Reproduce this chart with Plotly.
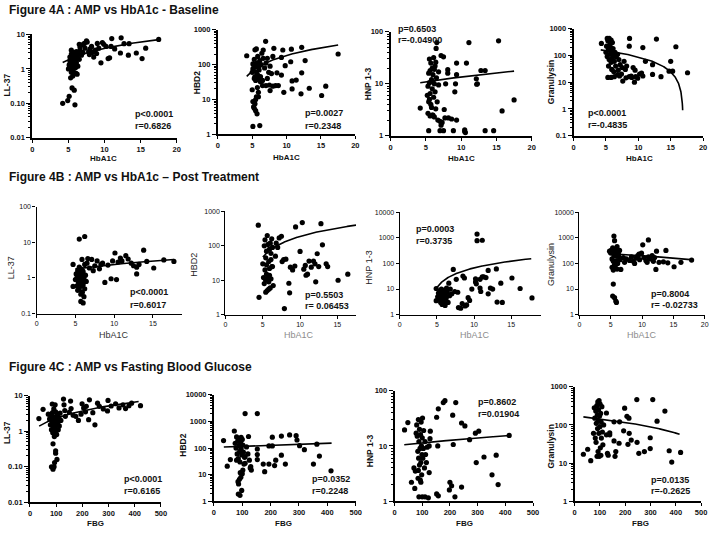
import numpy as np
import plotly.graph_objects as go

W, H = 716, 534

# ---------------- DATA ----------------
# Figure 4A : HbA1c (x) vs AMP (y) - Baseline
a_ll37_x = [4.2, 4.9, 5.1, 5.5, 5.8, 5.9, 5.3, 5.6, 6.2, 5.4, 6.0,
            5.0, 5.1, 5.2, 5.2, 5.3, 5.3, 5.4, 5.4, 5.5, 5.5, 5.5, 5.6, 5.6, 5.7, 5.7, 5.8, 5.8, 5.9, 5.9, 6.0, 6.0,
            6.1, 6.1, 6.2, 6.3, 6.4, 6.5, 6.6, 6.8, 6.9, 7.0, 6.5, 6.6,
            7.2, 7.3, 7.5, 7.6, 7.8, 7.9, 8.0, 8.2, 8.3, 8.5, 8.7, 8.9, 9.0, 9.2, 9.5, 9.7, 9.9, 10.2, 10.5, 10.7,
            11.0, 10.9, 11.4,
            12.2, 12.3, 12.7, 13.4, 13.3, 14.4, 15.2, 15.7, 17.5]
a_ll37_y = [0.10, 0.12, 0.16, 0.28, 0.24, 0.09, 0.55, 0.62, 0.7, 0.8, 0.75,
            1.0, 1.3, 1.7, 2.2, 1.1, 1.5, 2.7, 3.5, 0.9, 1.2, 1.9, 1.4, 2.4, 1.0, 1.7, 2.0, 3.0, 1.3, 2.5, 1.1, 1.8,
            1.5, 3.2, 2.2, 1.2, 2.7, 1.9, 3.5, 2.5, 5.0, 3.0, 5.2, 4.3,
            5.5, 4.0, 6.5, 6.0, 3.2, 2.6, 3.8, 4.5, 3.0, 2.2, 3.5, 2.8, 5.5, 4.0, 1.5, 5.8, 5.2, 4.5, 2.0, 2.1,
            7.6, 4.5, 3.8,
            2.9, 8.0, 5.4, 5.4, 2.5, 2.9, 2.0, 4.0, 7.2]

a_hbd2_x = [4.2, 5.1, 5.4, 5.6, 6.95, 6.6, 8.15, 9.45, 10.7, 12.2, 17.5,
            8.0, 9.25, 9.8, 8.6, 9.25, 10.8, 11.4, 12.2, 12.7, 10.6,
            9.6, 10.8, 12.1, 13.3, 15.1, 15.7,
            6.5, 7.0, 7.5, 8.0, 8.4, 8.8, 7.6, 7.2, 7.8,
            5.1, 5.4, 5.5, 5.7, 5.3, 5.5, 5.6, 5.1, 6.1, 5.0, 5.9, 5.75, 5.2, 5.9,
            5.0, 5.1, 5.2, 5.3, 5.4, 5.5, 5.5, 5.6, 5.7, 5.7, 5.8, 5.9, 6.0, 6.0, 6.1, 6.2, 6.3, 6.4, 6.5, 6.6,
            6.8, 7.0, 7.2, 7.4, 7.6, 5.8, 5.3, 6.2]
a_hbd2_y = [178, 104, 263, 280, 460, 260, 290, 260, 275, 310, 200,
            170, 160, 93, 58, 50, 34, 36, 58, 130, 120,
            16, 20, 14.5, 21, 13, 24,
            25, 25, 26, 24, 25, 25, 18, 40, 55,
            8.7, 7.5, 4.8, 3.9, 5.6, 10, 12, 1.7, 1.8, 19, 16, 22, 6.2, 12,
            60, 75, 100, 140, 45, 35, 85, 60, 40, 110, 50, 38, 70, 90, 130, 45, 100, 210, 35, 150,
            80, 110, 150, 60, 90, 170, 40, 32]

a_hnp_x = [4.2, 6.45, 6.55, 11.1, 15.3, 17.5, 15.8, 14.6, 13.4, 10.5, 10.5, 10.6, 8.9, 7.5, 7.0, 5.4,
           9.35, 8.65, 8.2, 7.7, 7.6, 7.15, 7.3,
           9.35, 10.75, 9.35, 8.1, 8.1, 7.8, 9.1, 9.2, 7.15, 7.5, 12.15, 12.2, 12.3, 12.8, 13.4,
           5.3, 5.4, 5.5, 5.5, 5.6, 5.6, 5.7, 5.7, 5.8, 5.8, 5.9, 5.9, 6.0, 6.0, 6.1, 6.1, 6.2, 6.2, 6.3, 6.3,
           6.4, 6.5, 6.6, 6.7, 6.8, 5.2, 5.3, 5.6, 5.9, 6.0, 5.4, 6.4, 6.8, 5.5, 6.2, 7.0]
a_hnp_y = [3.4, 48, 62, 62, 67, 4.9, 3.0, 1.25, 1.25, 1.3, 1.2, 1.15, 1.25, 1.25, 1.25, 1.25,
           2.0, 2.1, 2.2, 2.2, 3.2, 1.6, 1.8,
           15, 25, 25, 18.7, 16, 10, 7, 10, 35, 33, 12.5, 9.8, 10, 18, 18,
           9, 16, 5, 30, 18, 6.5, 4, 25, 12, 3.5, 8, 20, 2.5, 15, 5.5, 32, 2.3, 10, 7, 22,
           3.3, 13, 4.5, 2, 17, 6, 2.7, 2.4, 2.5, 11, 4.5, 26, 9.5, 10.5, 19, 1.9]

a_gran_x = [4.3, 5.2, 5.5, 5.3, 5.8, 5.6, 6.0, 8.65, 12.8, 15.8, 17.6, 14.75, 15.3, 15.0, 10.7, 11.1, 12.2,
            12.2, 13.5, 9.4, 9.9, 10.7, 7.6, 8.1, 8.6, 8.9,
            5.3, 5.8, 6.3, 6.8, 7.1, 7.4, 9.0, 9.6, 10.2, 10.5,
            5.0, 5.2, 5.4, 5.5, 5.6, 5.7, 5.8, 5.9, 6.0, 6.1, 6.2, 6.3, 6.4, 6.5, 6.6, 6.8, 7.0, 7.2, 7.5, 7.8,
            8.2, 8.6, 9.2, 9.5, 5.4, 5.9, 6.2, 6.9, 8.0, 5.1, 5.6]
a_gran_y = [280, 430, 430, 350, 370, 250, 300, 430, 405, 210, 22.5, 25.8, 25.8, 60, 195, 60, 45,
            19.5, 16, 10, 14, 17, 11, 14.5, 16, 17,
            15, 15, 16, 19, 17, 20, 15, 16, 20, 22,
            130, 90, 170, 70, 110, 200, 55, 140, 80, 180, 100, 60, 130, 40, 90, 110, 70, 45, 35, 60,
            40, 220, 35, 28, 40, 30, 25, 28, 30, 220, 160]

# Figure 4B : HbA1c (x) vs AMP (y) - Post Treatment
b_ll37_x = [5.5, 6.2, 4.7, 5.85, 4.7, 5.7, 6.0, 7.1, 6.6, 8.5, 8.1, 8.8, 9.6, 10.3, 10.1, 10.8, 11.5, 11.8,
            12.5, 12.9, 12.9, 13.8, 15.1, 16.4, 17.7, 14.2, 11.0, 10.5, 9.8, 9.2, 7.5, 7.8, 8.3, 7.3, 6.8, 6.5,
            12.2, 13.2,
            5.0, 5.1, 5.2, 5.3, 5.3, 5.4, 5.4, 5.5, 5.5, 5.6, 5.6, 5.7, 5.7, 5.8, 5.8, 5.9, 5.9, 6.0, 6.0, 6.1,
            6.1, 6.2, 6.2, 6.3, 6.4, 5.2, 5.5, 5.9, 5.6, 6.0]
b_ll37_y = [12.3, 14.5, 2.4, 3.3, 0.58, 0.22, 0.2, 3.3, 3.5, 2.6, 1.8, 0.75, 0.95, 0.9, 5.0, 3.6, 4.2, 3.4,
            2.2, 1.3, 2.0, 6.0, 1.9, 3.2, 2.9, 2.9, 3.0, 2.8, 3.0, 2.3, 2.2, 3.0, 2.4, 1.6, 1.9, 2.6,
            2.6, 2.4,
            0.9, 1.3, 0.6, 1.6, 0.45, 1.1, 0.75, 2.0, 0.5, 1.4, 0.9, 0.35, 1.8, 0.6, 1.2, 0.8, 0.4, 1.5, 0.65, 1.0,
            0.3, 2.4, 0.5, 1.2, 0.8, 1.0, 1.25, 1.6, 0.7, 1.1]

b_hbd2_x = [4.4, 4.5, 7.9, 8.6, 8.5, 8.1, 7.6, 9.4, 10.3, 12.8, 10.0, 10.5, 10.7, 11.2, 11.8, 12.3, 12.5,
            13.0, 13.7, 15.1, 16.4, 12.1, 10.8, 8.7, 6.4, 6.3, 6.7, 7.8, 9.0, 9.3, 11.0, 11.5, 12.0, 13.5,
            7.2, 7.5, 6.8, 7.0,
            5.0, 5.1, 5.2, 5.2, 5.3, 5.3, 5.4, 5.4, 5.5, 5.5, 5.6, 5.6, 5.7, 5.7, 5.8, 5.8, 5.9, 5.9, 6.0, 6.0,
            6.1, 6.1, 6.2, 6.2, 5.4, 5.8, 6.3, 5.5, 5.9, 6.1]
b_hbd2_y = [400, 3.2, 1.5, 4.3, 8.2, 41, 35, 355, 475, 440, 69, 21, 27, 36, 36, 59, 25,
            107, 25, 10, 15, 9, 14, 24, 7, 25, 50, 40, 20, 26, 15, 24, 30, 30,
            170, 190, 120, 90,
            30, 12, 100, 8, 150, 20, 45, 10, 70, 15, 200, 5, 110, 12, 35, 9, 80, 14, 120, 6,
            60, 11, 25, 160, 4.5, 5.5, 90, 28, 22, 40]

b_hnp_x = [10.4, 10.4, 11.1, 4.9, 4.9, 7.2, 13.0, 11.9, 15.1, 16.2, 17.8, 13.6, 13.1, 13.8, 11.1, 11.3,
           10.8, 10.2, 10.2, 9.7, 10.8, 10.9, 11.9, 12.2, 12.5, 8.5, 8.7, 7.6, 9.2, 9.4, 8.8, 9.0, 7.9, 8.2,
           8.4, 6.8, 7.0, 6.6, 7.4, 7.8, 10.3, 11.6,
           5.1, 5.2, 5.3, 5.4, 5.5, 5.5, 5.6, 5.7, 5.7, 5.8, 5.9, 6.0, 6.0, 6.1, 6.1, 6.2, 6.3, 6.3, 6.4, 6.5,
           5.3, 5.8, 5.6, 6.2, 6.7]
b_hnp_y = [1390, 770, 800, 10.5, 3.5, 58, 61, 53, 27, 10.5, 4.5, 17, 3.1, 3.0, 30, 30,
           24, 25, 19, 10, 11, 8, 6.5, 11, 10, 32, 27, 24, 4.6, 3.6, 2.2, 2.4, 1.9, 1.8,
           2.7, 10, 6.5, 17, 8, 7.5, 16, 28,
           5, 7, 4, 8.5, 3, 6, 10, 4.5, 2.5, 7, 5.5, 3.5, 9, 2.3, 6, 4, 11, 5, 7.5, 3,
           6, 3.5, 5, 8, 5.5]

b_gran_x = [5.5, 5.6, 5.4, 5.3, 5.6, 5.8, 5.9, 10.1, 11.0, 12.3, 13.8, 12.2, 12.7, 15.1, 16.2, 17.9, 13.4,
            14.1, 6.6,
            4.8, 5.0, 5.1, 5.2, 5.3, 5.4, 5.5, 5.6, 5.7, 5.8, 5.9, 6.0, 6.1, 6.2, 6.3, 6.4, 6.5, 5.2, 5.4, 5.7,
            6.0, 5.5, 5.9,
            7.0, 7.5, 8.0, 8.3, 8.6, 9.0, 9.3, 9.6, 9.9, 10.3, 10.6, 11.0, 11.3, 11.6, 12.0, 7.2, 8.8, 9.5,
            10.8, 11.8]
b_gran_y = [1170, 770, 15.6, 5.3, 4.6, 3.4, 3.0, 530, 820, 300, 320, 58, 110, 74, 110, 135, 115,
            105, 58,
            300, 250, 330, 150, 400, 120, 280, 90, 200, 350, 130, 450, 100, 250, 180, 320, 140, 70, 55, 80,
            60, 200, 230,
            170, 150, 130, 180, 120, 160, 200, 140, 250, 170, 130, 180, 150, 200, 170, 110, 100, 230,
            110, 120]

# Figure 4C : FBG (x) vs AMP (y)
c_ll37_x = [34, 50, 88, 92, 82, 88, 94, 98, 98, 103, 128, 155, 157, 199, 227, 224, 248, 258, 298, 327, 296,
            365, 388, 422,
            130, 133, 135, 150, 165, 175, 185, 195, 205, 212, 215, 240, 265, 280, 310, 340, 355, 378,
            70, 75, 78, 80, 82, 84, 86, 87, 88, 90, 91, 92, 93, 94, 95, 96, 97, 98, 100, 101, 102, 104, 105,
            107, 108, 110, 112, 115, 118, 85]
c_ll37_y = [2.26, 4.1, 0.44, 0.10, 0.099, 0.085, 0.13, 0.28, 0.24, 0.16, 8, 7, 4.3, 5.9, 7.6, 2.1, 1.5, 6.1,
            7.3, 5.9, 3.7, 4.3, 6.1, 5.2,
            5.5, 3.8, 2.6, 3.4, 2.8, 2.6, 2.0, 3.0, 4.5, 3.5, 5.0, 3.3, 5.0, 4.2, 5.1, 4.5, 5.5, 5.2,
            3.0, 2.2, 1.5, 2.6, 1.1, 1.8, 3.3, 0.9, 2.0, 1.3, 4.2, 1.6, 0.7, 2.5, 1.2, 5.5, 1.9, 3.5, 1.0, 2.2,
            0.8, 1.5, 2.9, 1.8, 1.1, 2.4, 1.4, 3.2, 2.0, 5.8]

c_hbd2_x = [34, 47, 72, 110, 153, 58, 122, 206, 238, 267, 290, 293, 302, 319, 363, 372, 351, 413, 252, 238,
            218, 214, 194, 179, 174, 153, 153, 153, 206, 194, 110, 110,
            90, 87, 86, 92, 98, 95, 100, 93, 85, 102,
            75, 78, 80, 82, 84, 86, 88, 90, 91, 92, 94, 96, 98, 100, 102, 104, 106, 108, 115, 120, 125, 128,
            130, 132, 80, 88, 96]
c_hbd2_y = [190, 21, 435, 1950, 1950, 37, 270, 255, 280, 310, 290, 200, 123, 87, 140, 50, 25, 14, 25, 54,
            35, 22, 25, 13, 25, 92, 57, 37, 120, 120, 48, 27,
            6.8, 4.5, 1.9, 1.7, 2.6, 8, 11, 12, 5.5, 15,
            150, 100, 260, 60, 180, 40, 120, 230, 75, 30, 160, 95, 55, 210, 130, 70, 25, 45, 110, 60, 35, 18,
            20, 15, 35, 200, 250]

c_hnp_x = [36, 48, 61, 73, 152, 158, 176, 182, 210, 221, 242, 254, 271, 292, 304, 295, 323, 367, 352, 374,
           414, 242, 200, 206, 212, 218, 152, 156, 125, 125, 129, 128, 158, 198,
           88, 100, 110, 122,
           70, 75, 78, 80, 82, 84, 85, 86, 87, 88, 90, 90, 92, 93, 94, 95, 96, 97, 98, 99, 100, 101, 102,
           104, 105, 108, 110, 112, 115, 118, 95, 86]
c_hnp_y = [19.5, 26.5, 2.2, 1.7, 33, 47, 61, 66, 36, 61, 26, 23, 13, 17, 18.5, 5, 6.3, 6.8, 3, 2,
           15.5, 1.8, 2.2, 1.9, 10.6, 1.2, 1.35, 10, 10, 3.3, 18.5, 13.5, 1.25, 1.6,
           1.2, 1.2, 1.2, 1.15,
           4, 3.5, 17, 24, 15, 8, 2.6, 30, 6, 12, 4.5, 20, 9, 2.4, 16, 5, 27, 10, 3, 7, 14, 32, 6,
           9, 19, 4, 12, 7, 5, 9.5, 2.2, 3.6]

c_gran_x = [35, 52, 64, 126, 156, 176, 194, 198, 207, 215, 211, 224, 246, 247, 254, 276, 299, 299, 309, 326,
            357, 374, 384, 419, 163, 216, 178, 139, 139, 126, 156, 130, 133, 160,
            75, 78, 80, 82, 84, 85, 86, 88, 89, 90, 91, 92, 93, 94, 95, 96, 97, 98, 99, 100, 101, 102, 103,
            104, 105, 106, 108, 110, 112, 115]
c_gran_y = [17, 23, 11.5, 205, 38, 33, 70, 275, 168, 150, 31, 40, 460, 35, 18, 20, 46, 24, 460, 125,
            230, 21, 10.6, 19, 20, 60, 120, 62, 55, 55, 120, 18, 16, 15,
            60, 280, 150, 45, 230, 35, 110, 320, 15, 180, 80, 400, 20, 130, 250, 60, 430, 15, 170, 90, 350, 25, 200,
            16, 120, 45, 300, 65, 30, 100]

# Linear regression lines: start x, end x, start y, end y
fit_x0 = [4.2, 4.2, 4.2, 4.2, 5.0, 5.0, 5.0, 5.0, 35, 35, 35, 35]
fit_x1 = [17.5, 17.5, 17.5, 16.85, 17.7, 17.5, 17.7, 17.7, 415, 415, 415, 415]
fit_y0 = [1.53, 46, 10.5, 160, 1.8, 47.5, 11.5, 238, 1.38, 109, 10.5, 162]
fit_y1 = [7.1, 360, 17.5, 0.9, 3.3, 400, 153, 140, 6.8, 153, 15.4, 56.8]

p_texts = ["p<0.0001", "p=0.0027", "p=0.6503", "p<0.0001",
           "p<0.0001", "p=0.5503", "p=0.0003", "p=0.8004",
           "p<0.0001", "p=0.0352", "p=0.8602", "p=0.0135"]
r_texts = ["r=0.6826", "r=0.2348", "r=-0.04900", "r=-0.4835",
           "r=0.6017", "r= 0.06453", "r=0.3735", "r= -0.02733",
           "r=0.6165", "r=0.2248", "r=0.01904", "r=-0.2625"]
y_titles = ["LL-37", "HBD2", "HNP 1-3", "Granulysin"] * 3
x_titles = ["HbA1C"] * 8 + ["FBG"] * 4
row_titles = ["Figure 4A : AMP vs HbA1c - Baseline",
              "Figure 4B : AMP vs HbA1c \u2013 Post Treatment",
              "Figure 4C : AMP vs Fasting Blood Glucose"]

xs = [a_ll37_x, a_hbd2_x, a_hnp_x, a_gran_x, b_ll37_x, b_hbd2_x, b_hnp_x, b_gran_x,
      c_ll37_x, c_hbd2_x, c_hnp_x, c_gran_x]
ys = [a_ll37_y, a_hbd2_y, a_hnp_y, a_gran_y, b_ll37_y, b_hbd2_y, b_hnp_y, b_gran_y,
      c_ll37_y, c_hbd2_y, c_hnp_y, c_gran_y]

# ---------------- LAYOUT GEOMETRY (pixels) ----------------
# (left, right, top, bottom) of each plot area
boxes = [(30.7, 176.7, 31, 136), (218.3, 357.3, 26, 132.7), (393, 535.7, 28.3, 134), (578, 709, 25, 134),
         (35, 181.7, 206, 315), (226, 358, 211, 316), (402.3, 545, 211.7, 316), (584, 710.7, 211.7, 316),
         (28.3, 160.7, 398.3, 506.7), (214.3, 357.7, 397.3, 506), (397, 537, 393.3, 505.7), (579, 707, 389.3, 505.7)]
xranges = [(0, 20)] * 4 + [(0, 18.7), (0, 17.5), (0, 19), (0, 20)] + [(0, 500)] * 4
yranges = [(-2, 1), (0, 3), (0, 2), (-1, 3), (-1, 2), (0, 3), (0, 4), (0, 4), (-2, 1), (0, 4), (0, 2), (0, 3)]
xtick_sets = [[0, 5, 10, 15, 20]] * 4 + [[0, 5, 10, 15]] * 3 + [[0, 5, 10, 15, 20]] + [[0, 100, 200, 300, 400, 500]] * 4
ytick_text = {-2: "0.01", -1: "0.10", 0: "1", 1: "10", 2: "100", 3: "1000", 4: "10000"}

p_pos = [(132.7, 111.7), (304, 111), (398, 25), (590.7, 111),
         (127.7, 293.3), (304, 296), (416.3, 229), (654, 295),
         (121.7, 483.3), (311, 483.3), (479.7, 405), (654, 484.3)]
r_dy = [12.3, 13, 11.7, 12.3, 12.7, 11.3, 12, 11, 11.7, 11.7, 12.3, 11.4]
xt_pos = [(103, 156.7), (288, 156), (464.7, 156.7), (644.7, 156.7),
          (113.3, 336.7), (300, 336.7), (478, 336.7), (647.3, 336.7),
          (94.3, 528), (285, 528), (467.3, 528), (645.3, 528)]
yt_pos = [(5, 82), (196.7, 80), (369.7, 81), (554.7, 80),
          (10, 268), (193.3, 265), (371.3, 268), (554.7, 265),
          (4.5, 436), (183.3, 449), (373, 454), (555.3, 450)]
row_title_y = [6.5, 176, 369.5]

FONT = "Liberation Sans, Arial, sans-serif"
NARROW = "Liberation Sans Narrow, Arial Narrow, Liberation Sans, Arial, sans-serif"

fig = go.Figure()
annotations = []


def px(x):
    return x / W


def py(y):
    return 1 - y / H


for i in range(12):
    n = i + 1
    sfx = "" if n == 1 else str(n)
    rowB = 4 <= i < 8
    l, r, t, b = boxes[i]
    fig.add_trace(go.Scatter(x=xs[i], y=ys[i], mode="markers",
                             marker=dict(color="black", size=5.2, line=dict(width=0)),
                             xaxis="x" + sfx, yaxis="y" + sfx, showlegend=False,
                             cliponaxis=False, hoverinfo="skip"))
    fx = np.linspace(fit_x0[i], fit_x1[i], 400)
    fy = fit_y0[i] + (fit_y1[i] - fit_y0[i]) * (fx - fit_x0[i]) / (fit_x1[i] - fit_x0[i])
    fig.add_trace(go.Scatter(x=fx, y=fy, mode="lines", line=dict(color="black", width=1.6),
                             xaxis="x" + sfx, yaxis="y" + sfx, showlegend=False,
                             cliponaxis=False, hoverinfo="skip"))
    if rowB:
        tickfont = dict(family=FONT, size=7, color="#111", weight="normal")
    else:
        tickfont = dict(family=NARROW, size=7.5, color="#111", weight="bold")
    lw = 1.4 if rowB else 1.8
    fig.layout["xaxis" + sfx] = dict(
        domain=[px(l), px(r)], range=list(xranges[i]), anchor="y" + sfx,
        showline=True, linecolor="black", linewidth=lw, ticks="outside", ticklen=3,
        tickwidth=1.2, tickcolor="black", showgrid=False, zeroline=False,
        tickvals=xtick_sets[i], ticktext=[str(v) for v in xtick_sets[i]], tickfont=tickfont,
        fixedrange=True)
    y0, y1 = yranges[i]
    yt = list(range(y0, y1 + 1))
    ytxt = [ytick_text[k] for k in yt]
    if i in (3, 4):
        ytxt = [("0.1" if k == -1 else ytick_text[k]) for k in yt]
    yax = dict(
        domain=[py(b), py(t)], type="log", range=[y0, y1], anchor="x" + sfx,
        showline=True, linecolor="black", linewidth=lw, ticks="outside",
        ticklen=3 if rowB else 4,
        tickwidth=1.2, tickcolor="black", showgrid=False, zeroline=False,
        tickvals=[10.0 ** k for k in yt], ticktext=ytxt, tickfont=tickfont, fixedrange=True)
    if not rowB:
        minor_vals = [m * 10.0 ** k for k in range(y0, y1) for m in range(2, 10)]
        yax["minor"] = dict(tickvals=minor_vals, ticks="outside", ticklen=2, tickwidth=0.9,
                            tickcolor="black", showgrid=False)
    fig.layout["yaxis" + sfx] = yax

    ann_font = dict(family=FONT, size=9, color="#111", weight="bold")
    pxp, pyp = p_pos[i]
    annotations.append(dict(x=px(pxp), y=py(pyp), xref="paper", yref="paper", text=p_texts[i],
                            showarrow=False, xanchor="left", yanchor="middle", font=ann_font))
    annotations.append(dict(x=px(pxp), y=py(pyp + r_dy[i]), xref="paper", yref="paper", text=r_texts[i],
                            showarrow=False, xanchor="left", yanchor="middle", font=ann_font))
    if rowB:
        tcol = "#333" if i == 4 else "#8c8c8c"
        xfont = dict(family=FONT, size=9, color=tcol, weight="normal")
        yfont = dict(family=FONT, size=9, color="#222", weight="normal")
    else:
        xfont = dict(family=FONT, size=8, color="#111", weight="bold")
        yfont = dict(family=NARROW, size=8.5, color="#111", weight="bold")
    annotations.append(dict(x=px(xt_pos[i][0]), y=py(xt_pos[i][1]), xref="paper", yref="paper",
                            text=x_titles[i], showarrow=False, xanchor="center", yanchor="middle",
                            font=xfont))
    annotations.append(dict(x=px(yt_pos[i][0]), y=py(yt_pos[i][1]), xref="paper", yref="paper",
                            text=y_titles[i], showarrow=False, xanchor="center", yanchor="middle",
                            textangle=-90, font=yfont))

for k in range(3):
    annotations.append(dict(x=px(5), y=py(row_title_y[k]), xref="paper", yref="paper",
                            text=row_titles[k], showarrow=False, xanchor="left", yanchor="middle",
                            font=dict(family=FONT, size=12, color="#111", weight="bold")))

fig.update_layout(width=W, height=H, margin=dict(l=0, r=0, t=0, b=0),
                  paper_bgcolor="white", plot_bgcolor="white", annotations=annotations,
                  showlegend=False)

fig.write_html("out.html", config={"displayModeBar": False},
               post_script="document.body.style.margin='0px';document.body.style.overflow='hidden';")
